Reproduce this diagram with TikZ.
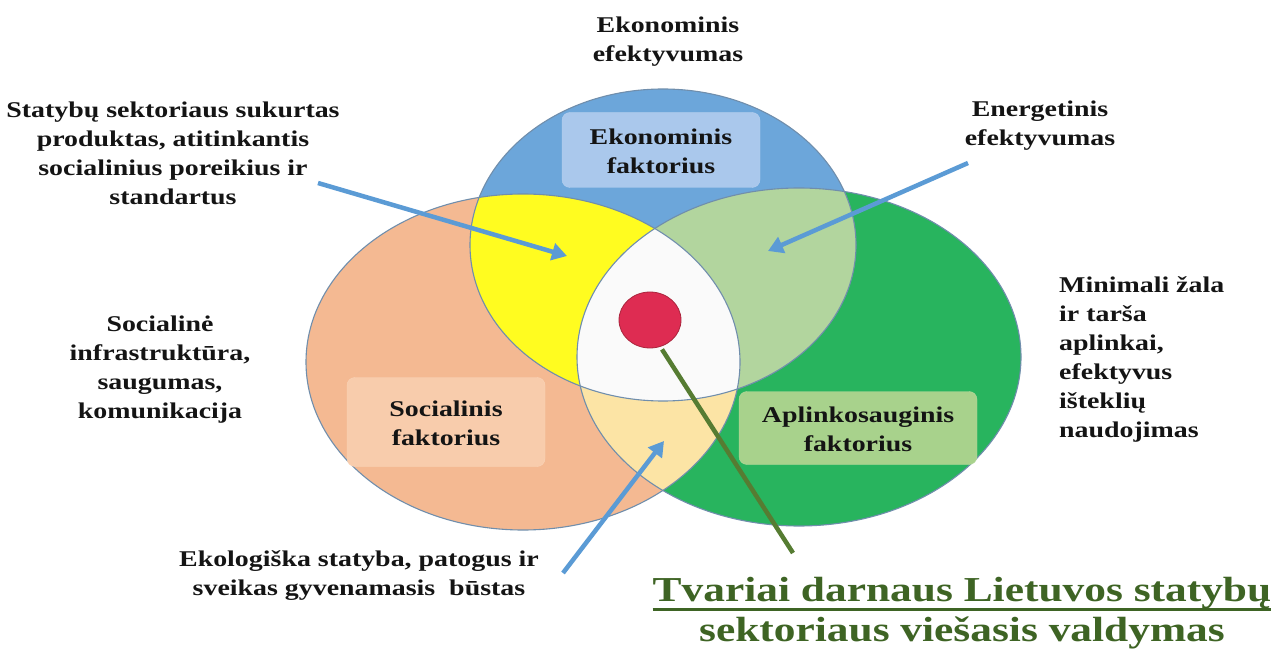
\documentclass[tikz,border=0pt]{standalone}
\usepackage{fontspec}
\newfontfamily\lab[FakeStretch=1.24]{Liberation Serif}
\usetikzlibrary{arrows.meta,shapes.geometric}

\definecolor{blueF}{RGB}{108,166,218}
\definecolor{orangeF}{RGB}{244,185,146}
\definecolor{greenF}{RGB}{40,180,94}
\definecolor{yellowF}{RGB}{255,252,32}
\definecolor{lgreenF}{RGB}{178,213,158}
\definecolor{lyellowF}{RGB}{252,228,165}
\definecolor{coreF}{RGB}{250,250,250}
\definecolor{rim}{RGB}{112,142,172}
\definecolor{ecoBox}{RGB}{170,200,236}
\definecolor{socBox}{RGB}{248,204,172}
\definecolor{envBox}{RGB}{168,210,140}
\definecolor{arrowB}{RGB}{91,155,213}
\definecolor{stick}{RGB}{86,124,50}
\definecolor{dotF}{RGB}{222,44,82}
\definecolor{dotE}{RGB}{170,36,60}
\definecolor{titleG}{RGB}{62,100,36}

% underline drawn just below the baseline, crossing descenders
\newcommand\lowline[1]{{\setbox0\hbox{#1}\rlap{\rule[-9pt]{\wd0}{2.4pt}}\box0}}

\begin{document}
\begin{tikzpicture}[x=1pt,y=-1pt,
  txt/.style={font=\lab\bfseries\fontsize{22.5}{29}\selectfont, align=center, text=black!92, inner sep=0pt},
  factor/.style={draw=#1!85!white, fill=#1, rounded corners=8pt, inner sep=0pt},
  pointer/.style={draw=arrowB, line width=4.5pt, -{Triangle[length=15pt,width=17pt]}},
  ellrim/.style={draw=rim, line width=1.1pt}]
\useasboundingbox (0,0) rectangle (1280,652);
\fill[white] (0,0) rectangle (1280,652);

% three overlapping factor ellipses
\fill[orangeF] (523,362) ellipse [x radius=217pt, y radius=168pt];
\fill[greenF]  (799,357) ellipse [x radius=222pt, y radius=169pt];
\fill[blueF]   (663,245) ellipse [x radius=193pt, y radius=156pt];
\begin{scope}
  \clip (523,362) ellipse [x radius=217pt, y radius=168pt];
  \fill[yellowF] (663,245) ellipse [x radius=193pt, y radius=156pt];
\end{scope}
\begin{scope}
  \clip (799,357) ellipse [x radius=222pt, y radius=169pt];
  \fill[lgreenF] (663,245) ellipse [x radius=193pt, y radius=156pt];
\end{scope}
\begin{scope}
  \clip (523,362) ellipse [x radius=217pt, y radius=168pt];
  \fill[lyellowF] (799,357) ellipse [x radius=222pt, y radius=169pt];
\end{scope}
\begin{scope}
  \clip (523,362) ellipse [x radius=217pt, y radius=168pt];
  \clip (799,357) ellipse [x radius=222pt, y radius=169pt];
  \fill[coreF] (663,245) ellipse [x radius=193pt, y radius=156pt];
\end{scope}
\draw[ellrim] (523,362) ellipse [x radius=217pt, y radius=168pt];
\draw[ellrim] (799,357) ellipse [x radius=222pt, y radius=169pt];
\draw[ellrim] (663,245) ellipse [x radius=193pt, y radius=156pt];

% factor labels
\node[factor=ecoBox, minimum width=198pt, minimum height=75pt] (ecobox) at (661,150) {};
\node[txt] (ecolab) at (661,151) {Ekonominis\\faktorius};
\node[factor=socBox, minimum width=198pt, minimum height=89pt] (socbox) at (446,422) {};
\node[txt] (soclab) at (446,423) {Socialinis\\faktorius};
\node[factor=envBox, minimum width=238pt, minimum height=73pt] (envbox) at (858,428) {};
\node[txt] (envlab) at (858,429) {Aplinkosauginis\\faktorius};

% centre point and its stem
\node[ellipse, fill=dotF, draw=dotE, line width=0.8pt, minimum width=62pt, minimum height=56pt, inner sep=0pt] (dot) at (650,320) {};
\coordinate (stemend) at (793,553);
\path (dot.south) ++(12,1) coordinate (stemstart);
\draw[stick, line width=4.5pt] (stemstart) -- (stemend);

% outer texts
\node[txt] (ecoeff) at (668,42) {Ekonominis\\efektyvumas};
\node[txt] (product) at (173,153) {Statybų sektoriaus sukurtas\\produktas, atitinkantis\\socialinius poreikius ir\\standartus};
\node[txt] (energy) at (1040,126) {Energetinis\\efektyvumas};
\node[txt] (social) at (160,370) {Socialinė\\infrastruktūra,\\saugumas,\\komunikacija};
\node[txt, align=left, anchor=west] (harm) at (1059,359) {Minimali žala\\ir tarša\\aplinkai,\\efektyvus\\išteklių\\naudojimas};
\node[txt] (housing) at (359,576) {Ekologiška statyba, patogus ir\\sveikas gyvenamasis\ \ būstas};
\node[font=\lab\bfseries\fontsize{35}{39.5}\selectfont, align=center, text=titleG, inner sep=0pt] (title) at (962,613)
  {\lowline{Tvariai darnaus Lietuvos statybų}\\sektoriaus viešasis valdymas};

% pointer arrows
\coordinate (p1s) at (318,183); \coordinate (p1e) at (567,256);
\coordinate (p2s) at (968,163); \coordinate (p2e) at (768,251);
\coordinate (p3s) at (563,573); \coordinate (p3e) at (664,441);
\draw[pointer] (p1s) -- (p1e);
\draw[pointer] (p2s) -- (p2e);
\draw[pointer] (p3s) -- (p3e);
\end{tikzpicture}
\end{document}
